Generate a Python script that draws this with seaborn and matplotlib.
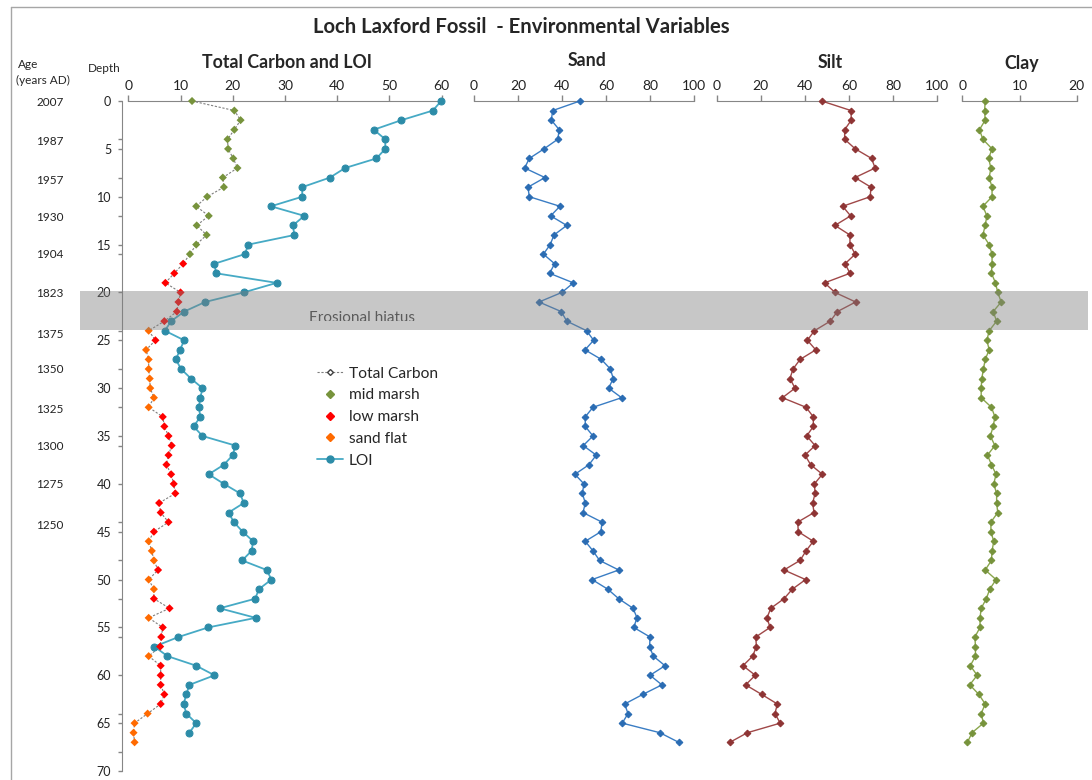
import numpy as np
import pandas as pd
import matplotlib.pyplot as plt
import matplotlib.transforms as mtransforms
from matplotlib.lines import Line2D
from matplotlib.patches import Rectangle
from matplotlib.ticker import MultipleLocator
import seaborn as sns

# --- data ---
depth = list(range(68))

total_carbon = [12.2, 20.3, 21.5, 20.3, 19.0, 19.1, 20.1, 20.9, 18.1, 18.3,
                15.1, 13.0, 15.4, 13.1, 15.0, 13.0, 11.8, 10.5, 8.8, 7.1,
                10.0, 9.6, 9.3, 6.9, 3.9, 5.2, 3.4, 3.9, 3.9, 4.1,
                4.2, 4.9, 3.9, 6.6, 6.9, 7.7, 8.3, 7.7, 7.3, 8.2,
                8.7, 9.0, 5.9, 6.2, 7.7, 4.9, 3.9, 4.5, 4.9, 5.7,
                3.9, 4.9, 4.9, 7.9, 3.9, 6.6, 6.3, 6.1, 3.9, 6.2,
                6.2, 6.2, 6.9, 6.2, 3.7, 1.2, 1.0, 1.2]

# M = mid marsh, L = low marsh, S = sand flat
zone_codes = ("MMMMMMMMMMMMMMMMM" "LLLLLLL" "S" "L" "SSSSSSS" "LLLLLLLLLLLLL"
              "SSS" "L" "SS" "LL" "S" "LLL" "S" "LLLLL" "SSSS")
zone_names = {"M": "mid marsh", "L": "low marsh", "S": "sand flat"}

loi = [59.9, 58.3, 52.3, 47.0, 49.2, 49.2, 47.5, 41.5, 38.6, 33.3,
       33.3, 27.3, 33.7, 31.5, 31.8, 23.0, 22.3, 16.5, 16.8, 28.4,
       22.1, 14.7, 10.7, 8.2, 7.0, 10.7, 9.9, 9.1, 10.1, 12.0,
       14.2, 13.8, 13.5, 13.8, 12.5, 14.2, 20.5, 20.0, 18.3, 15.4,
       18.3, 21.4, 22.1, 19.2, 20.2, 21.9, 23.9, 23.6, 21.8, 26.5,
       27.4, 25.0, 24.3, 17.5, 24.4, 15.3, 9.6, 5.0, 7.5, 13.0,
       16.5, 11.7, 11.1, 10.6, 11.1, 13.0, 11.7]

sand = [48.1, 35.7, 35.1, 38.7, 38.0, 31.8, 25.1, 23.0, 32.2, 24.5,
        25.1, 39.0, 34.8, 42.1, 36.3, 34.6, 31.5, 36.6, 34.3, 45.1,
        39.9, 29.5, 39.6, 42.1, 51.1, 54.3, 50.4, 57.8, 61.9, 63.2,
        61.1, 67.0, 54.0, 50.5, 50.5, 54.0, 49.6, 55.5, 52.2, 45.8,
        49.9, 49.2, 50.5, 49.5, 58.1, 57.6, 50.5, 54.0, 57.0, 65.7,
        53.6, 60.7, 65.7, 72.2, 74.0, 72.5, 79.9, 79.7, 81.4, 86.7,
        79.9, 85.3, 76.6, 68.4, 69.9, 67.3, 84.4, 92.9]

silt = [47.6, 60.9, 61.0, 58.0, 58.0, 62.8, 70.2, 71.8, 62.7, 69.9,
        69.6, 57.1, 60.7, 53.6, 60.4, 60.4, 62.8, 58.2, 60.4, 48.9,
        53.6, 63.0, 54.7, 51.5, 44.3, 41.1, 44.9, 37.8, 34.6, 33.2,
        35.5, 29.8, 40.5, 43.8, 43.8, 40.8, 44.6, 40.0, 42.6, 47.9,
        44.3, 44.6, 43.5, 44.1, 36.7, 37.0, 43.8, 40.5, 37.8, 30.5,
        40.3, 34.3, 30.5, 24.5, 22.8, 24.2, 17.7, 18.0, 16.3, 11.9,
        17.5, 13.1, 20.4, 27.5, 26.4, 28.8, 13.9, 6.0]

clay = [4.0, 3.9, 4.0, 3.0, 3.6, 5.2, 4.6, 5.0, 4.7, 5.2,
        5.2, 3.6, 4.3, 4.0, 3.6, 4.7, 5.2, 5.2, 5.1, 5.8,
        6.2, 6.8, 5.4, 6.0, 4.7, 4.3, 4.7, 4.0, 3.7, 3.4,
        3.3, 3.3, 5.1, 5.7, 5.4, 4.9, 5.7, 4.4, 5.1, 5.9,
        5.5, 6.0, 6.0, 6.2, 5.0, 5.0, 5.5, 5.2, 5.1, 4.0,
        5.9, 4.8, 4.2, 3.3, 3.1, 3.1, 2.2, 2.3, 2.3, 1.4,
        2.6, 1.3, 2.9, 4.0, 3.3, 3.7, 1.7, 0.9]

age_labels = ["2007", "1987", "1957", "1930", "1904", "1823",
              "1375", "1350", "1325", "1300", "1275", "1250"]
age_depths = [0.2, 4.2, 8.3, 12.2, 16.0, 20.1, 24.4, 28.0, 32.2, 36.1, 40.1, 44.4]

hiatus_top, hiatus_bottom = 19.9, 23.9

df = pd.DataFrame({
    "depth": depth,
    "total_carbon": total_carbon,
    "zone": [zone_names[c] for c in zone_codes],
    "sand": sand,
    "silt": silt,
    "clay": clay,
})
loi_df = pd.DataFrame({"depth": depth[:len(loi)], "loi": loi})

zone_colors = {"mid marsh": "#77933C", "low marsh": "#FF0000", "sand flat": "#FF6A00"}

sns.set_style("white")
plt.rcParams["font.family"] = ["Lato", "DejaVu Sans"]

W, H = 1092, 780
fig = plt.figure(figsize=(W / 100, H / 100), dpi=100)


def px_axes(x0, x1, y0=101, y1=771):
    return fig.add_axes([x0 / W, 1 - y1 / H, (x1 - x0) / W, (y1 - y0) / H])


ax_tc = px_axes(128.3, 441.7)
ax_sand = px_axes(474, 694.3)
ax_silt = px_axes(716.7, 937.3)
ax_clay = px_axes(962.3, 1076.7)

spine_col = "#868686"

# total carbon: dotted connector + zone coloured diamonds
sns.lineplot(data=df, x="total_carbon", y="depth", orient="y", sort=False,
             estimator=None, color="#7F7F7F", lw=0.8, linestyle=(0, (2, 1.5)),
             clip_on=False, ax=ax_tc)
sns.scatterplot(data=df, x="total_carbon", y="depth", hue="zone", palette=zone_colors,
                marker="D", s=17, edgecolor="none", legend=False, clip_on=False,
                ax=ax_tc, zorder=3)
sns.lineplot(data=loi_df, x="loi", y="depth", orient="y", sort=False, estimator=None,
             color="#46AAC5", lw=1.3, marker="o", markersize=5.0,
             markerfacecolor="#2C8CA8", markeredgecolor="#2C8CA8", clip_on=False, ax=ax_tc)

sns.lineplot(data=df, x="sand", y="depth", orient="y", sort=False, estimator=None,
             color="#3A7DC4", lw=1.0, marker="D", markersize=3.4, clip_on=False,
             markerfacecolor="#2A6CB3", markeredgecolor="#2A6CB3", ax=ax_sand)
sns.lineplot(data=df, x="silt", y="depth", orient="y", sort=False, estimator=None,
             color="#A04848", lw=1.0, marker="D", markersize=3.4, clip_on=False,
             markerfacecolor="#8E3434", markeredgecolor="#8E3434", ax=ax_silt)
sns.lineplot(data=df, x="clay", y="depth", orient="y", sort=False, estimator=None,
             color="#8AA64C", lw=1.0, marker="D", markersize=3.4, clip_on=False,
             markerfacecolor="#77933C", markeredgecolor="#77933C", ax=ax_clay)

limits = {ax_tc: (60, 10), ax_sand: (100, 20), ax_silt: (100, 20), ax_clay: (20, 10)}
for ax, (xmax, step) in limits.items():
    ax.set_ylim(70, 0)
    ax.set_xlim(0, xmax)
    ax.set_xticks(np.arange(0, xmax + 1, step))
    ax.xaxis.tick_top()
    ax.set_xlabel("")
    ax.set_ylabel("")
    for s in ["bottom", "right", "left"]:
        ax.spines[s].set_visible(False)
    ax.spines["top"].set_color(spine_col)
    ax.spines["top"].set_zorder(0.5)
    ax.tick_params(axis="x", which="both", top=True, direction="out", length=4,
                   width=1, color=spine_col, labelsize=10, pad=2.5, labelcolor="#222222")
    ax.set_yticks([])
    ax.patch.set_alpha(0)

# depth axis
ax_tc.spines["left"].set_visible(True)
ax_tc.spines["left"].set_position(("outward", 4.8))
ax_tc.spines["left"].set_color(spine_col)
ax_tc.set_yticks(np.arange(0, 71, 5))
ax_tc.yaxis.set_minor_locator(MultipleLocator(4))
ax_tc.tick_params(axis="y", which="both", left=True, direction="out", length=3,
                  width=1, color=spine_col, labelsize=9, pad=4.5, labelcolor="#222222")

# erosional hiatus band, drawn across all panels
trans = mtransforms.blended_transform_factory(fig.transFigure, ax_tc.transData)
hiatus_label = ax_tc.text(362 / W, 23.1, "Erosional hiatus", transform=trans,
                          ha="center", va="baseline", fontsize=11, color="#404040")
hiatus_label.set_clip_box(mtransforms.TransformedBbox(
    mtransforms.Bbox([[80 / W, 19.9], [1088 / W, 22.95]]), trans))
hiatus_label.set_clip_on(True)
band = Rectangle((80 / W, hiatus_top), (1088 - 80) / W, hiatus_bottom - hiatus_top,
                 transform=trans, facecolor="#7F7F7F", edgecolor="none", alpha=0.43, zorder=10)
fig.add_artist(band)

# ages
for lab, d in zip(age_labels, age_depths):
    ax_tc.text(50 / W, d, lab, transform=trans, ha="center", va="center",
               fontsize=8.5, color="#222222")

fig.text(28 / W, 1 - 64 / H, "Age", ha="center", va="center", fontsize=8.5)
fig.text(43 / W, 1 - 80 / H, "(years AD)", ha="center", va="center", fontsize=8.5)
fig.text(104 / W, 1 - 69 / H, "Depth", ha="center", va="center", fontsize=8.5)

# titles
fig.text(521 / W, 1 - 27 / H, "Loch Laxford Fossil  - Environmental Variables",
         ha="center", va="center", fontsize=14.6, fontweight="bold")
panel_titles = [("Total Carbon and LOI", 287.5, 63), ("Sand", 586.7, 61),
                ("Silt", 830, 62), ("Clay", 1021.7, 63)]
for t, x, y in panel_titles:
    fig.text(x / W, 1 - y / H, t, ha="center", va="center", fontsize=12.8, fontweight="bold")

# chart border (left and top)
fig.add_artist(Line2D([11 / W, 11 / W], [0, 1 - 7 / H], transform=fig.transFigure,
                      color="#A6A6A6", lw=1))
fig.add_artist(Line2D([11 / W, 1], [1 - 7 / H, 1 - 7 / H], transform=fig.transFigure,
                      color="#A6A6A6", lw=1))

# legend
handles = [
    Line2D([], [], color="#7F7F7F", lw=0.8, linestyle=(0, (2, 1.5)), marker="D",
           markersize=3, markerfacecolor="white", markeredgecolor="#404040"),
    Line2D([], [], lw=0, marker="D", markersize=4, color=zone_colors["mid marsh"]),
    Line2D([], [], lw=0, marker="D", markersize=4, color=zone_colors["low marsh"]),
    Line2D([], [], lw=0, marker="D", markersize=4, color=zone_colors["sand flat"]),
    Line2D([], [], color="#46AAC5", lw=1.3, marker="o", markersize=5,
           markerfacecolor="#2C8CA8", markeredgecolor="#2C8CA8"),
]
labels = ["Total Carbon", "mid marsh", "low marsh", "sand flat", "LOI"]
ax_tc.legend(handles, labels, loc="upper left", bbox_to_anchor=(317 / W, 1 - 366.5 / H),
             bbox_transform=fig.transFigure, frameon=False, fontsize=11.2,
             handlelength=1.7, handletextpad=0.35, labelspacing=0.5,
             borderpad=0, borderaxespad=0)

plt.savefig("out.png", dpi=100)
